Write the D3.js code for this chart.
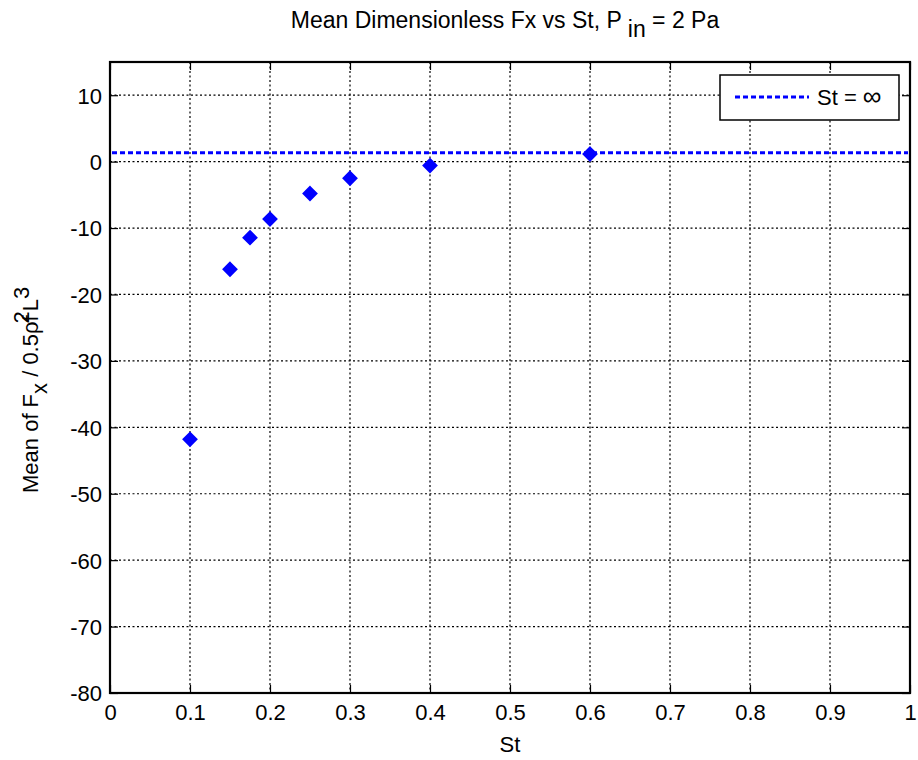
<!DOCTYPE html>
<html>
<head>
<meta charset="utf-8">
<script src="https://cdn.jsdelivr.net/npm/d3@7"></script>
<style>
  body { margin: 0; background: #fff; }
  text { font-family: "Liberation Sans", Arial, sans-serif; fill: #000; }
</style>
</head>
<body>
<svg id="chart"></svg>
<script>
var width = 918;
var height = 760;
var margin = {top: 62, right: 8, bottom: 67, left: 110};
var fontSize = '22px';

// data
var stValues = [0.1, 0.15, 0.175, 0.2, 0.25, 0.3, 0.4, 0.6];
var fxMeans = [-41.8, -16.2, -11.45, -8.65, -4.8, -2.5, -0.6, 1.15];
var stInfinity = 1.35;
var xTicks = [0, 0.1, 0.2, 0.3, 0.4, 0.5, 0.6, 0.7, 0.8, 0.9, 1];
var yTicks = [10, 0, -10, -20, -30, -40, -50, -60, -70, -80];

var blue = '#0000ff';

var svg = d3.select('#chart')
  .attr('width', width)
  .attr('height', height);

var xScale = d3.scaleLinear()
  .domain([0, 1])
  .range([margin.left, width - margin.right]);

var yScale = d3.scaleLinear()
  .domain([-80, 15])
  .range([height - margin.bottom, margin.top]);

var plotW = width - margin.right - margin.left;
var plotH = height - margin.bottom - margin.top;

// grid
svg.append('g')
  .selectAll('line.vgrid')
  .data(xTicks.slice(1, -1))
  .enter().append('line')
    .attr('x1', d => xScale(d)).attr('x2', d => xScale(d))
    .attr('y1', margin.top).attr('y2', height - margin.bottom)
    .attr('stroke', '#000').attr('stroke-width', 1.2)
    .attr('stroke-dasharray', '2,2.5');

svg.append('g')
  .selectAll('line.hgrid')
  .data(yTicks.slice(0, -1))
  .enter().append('line')
    .attr('x1', margin.left).attr('x2', width - margin.right)
    .attr('y1', d => yScale(d)).attr('y2', d => yScale(d))
    .attr('stroke', '#000').attr('stroke-width', 1.2)
    .attr('stroke-dasharray', '2,2.5');

// axes (ticks inward)
var xAxis = svg.append('g')
  .attr('transform', `translate(0, ${height - margin.bottom})`)
  .call(d3.axisBottom(xScale)
    .tickValues(xTicks)
    .tickSize(-8)
    .tickSizeOuter(0)
    .tickPadding(11)
    .tickFormat(d3.format('~g')));

var xAxisTop = svg.append('g')
  .attr('transform', `translate(0, ${margin.top})`)
  .call(d3.axisTop(xScale)
    .tickValues(xTicks)
    .tickSize(-8)
    .tickSizeOuter(0)
    .tickFormat(''));

var yAxis = svg.append('g')
  .attr('transform', `translate(${margin.left}, 0)`)
  .call(d3.axisLeft(yScale)
    .tickValues(yTicks)
    .tickSize(-8)
    .tickSizeOuter(0)
    .tickPadding(8)
    .tickFormat(d => String(d)));

var yAxisRight = svg.append('g')
  .attr('transform', `translate(${width - margin.right}, 0)`)
  .call(d3.axisRight(yScale)
    .tickValues(yTicks)
    .tickSize(-8)
    .tickSizeOuter(0)
    .tickFormat(''));

[xAxis, xAxisTop, yAxis, yAxisRight].forEach(function(g){
  g.select('.domain').remove();
  g.selectAll('line').attr('stroke', '#000').attr('stroke-width', 1.2);
  g.selectAll('text')
    .style('font-family', '"Liberation Sans", Arial, sans-serif')
    .style('font-size', fontSize)
    .attr('fill', '#000');
});
yAxis.selectAll('text').attr('dy', '0.36em');

// box
svg.append('rect')
  .attr('x', margin.left).attr('y', margin.top)
  .attr('width', plotW).attr('height', plotH)
  .attr('fill', 'none').attr('stroke', '#000').attr('stroke-width', 2.2);

// St = infinity line
svg.append('line')
  .attr('x1', margin.left + 2).attr('x2', width - margin.right - 2)
  .attr('y1', yScale(stInfinity)).attr('y2', yScale(stInfinity))
  .attr('stroke', blue).attr('stroke-width', 3)
  .attr('stroke-dasharray', '5,3');

// markers
var diamond = d3.symbol().type(d3.symbolDiamond2).size(85);
svg.append('g')
  .selectAll('path')
  .data(stValues.map((s, i) => ({st: s, fx: fxMeans[i]})))
  .enter().append('path')
    .attr('transform', d => `translate(${xScale(d.st)}, ${yScale(d.fx)})`)
    .attr('d', diamond)
    .attr('fill', blue)
    .attr('stroke', blue)
    .attr('stroke-width', 3)
    .attr('stroke-linejoin', 'miter');

// legend
var legend = svg.append('g').attr('transform', 'translate(720, 75)');
legend.append('rect')
  .attr('width', 179).attr('height', 45)
  .attr('fill', '#fff').attr('stroke', '#000').attr('stroke-width', 1.5);
legend.append('line')
  .attr('x1', 15).attr('x2', 89).attr('y1', 22).attr('y2', 22)
  .attr('stroke', blue).attr('stroke-width', 3)
  .attr('stroke-dasharray', '5,3');
var legendText = legend.append('text')
  .attr('x', 97).attr('y', 30)
  .style('font-size', fontSize);
legendText.append('tspan').text('St =  ');
legendText.append('tspan').style('font-size', '26px').text('\u221E');

// title
var title = svg.append('text')
  .attr('x', 505).attr('y', 28)
  .style('text-anchor', 'middle')
  .style('font-size', '23px');
title.append('tspan').text('Mean Dimensionless Fx vs St, P ');
title.append('tspan').attr('dy', 9).text('in');
title.append('tspan').attr('dy', -9).text(' = 2 Pa');

// x label
svg.append('text')
  .attr('x', xScale(0.5)).attr('y', 752)
  .style('text-anchor', 'middle')
  .style('font-size', fontSize)
  .text('St');

// y label
var yLabel = svg.append('text')
  .attr('transform', 'translate(38, 493) rotate(-90)')
  .style('text-anchor', 'start')
  .style('font-size', fontSize);
yLabel.append('tspan').text('Mean of F');
yLabel.append('tspan').attr('dy', 9).text('x');
yLabel.append('tspan').attr('dy', -9).text('  / 0.5\u03C1f');
yLabel.append('tspan').attr('dx', -8).attr('dy', -9).text('2');
yLabel.append('tspan').attr('dy', 9).text('L');
yLabel.append('tspan').attr('dy', -9).text('3');
</script>
</body>
</html>
